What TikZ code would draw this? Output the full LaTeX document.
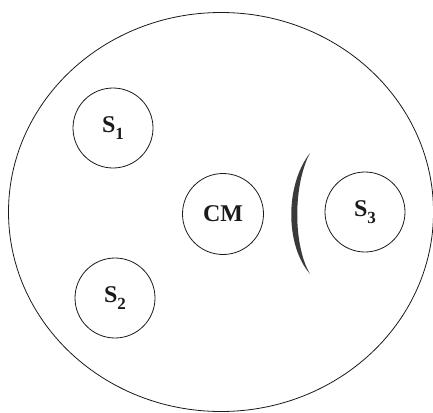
\documentclass[tikz,border=0pt]{standalone}
\usepackage{fontspec}
\setmainfont{Liberation Serif}
\usepackage{tikz}
\usetikzlibrary{positioning,shapes.geometric}
\definecolor{ink}{HTML}{1A1A1A}
\definecolor{shield}{HTML}{3A3A3A}
\newcommand{\satlabel}[1]{S\raisebox{-0.28em}{\fontsize{17}{20}\selectfont #1}}
\tikzset{
  body/.style={ellipse,draw=ink,line width=0.8pt,minimum width=425pt,minimum height=399pt,inner sep=0pt},
  sat/.style={circle,draw=ink,line width=0.8pt,minimum size=#1,inner sep=0pt,
    font=\fontsize{24}{28}\selectfont\bfseries,text=ink},
  sat/.default=80pt,
}
\begin{document}
\begin{tikzpicture}[x=1pt,y=-1pt]
  \useasboundingbox (0,0) rectangle (433,412);
  \node[body] (cell) at (221,212) {};
  \node[sat] (s1) at (113,128) {\satlabel{1}};
  \node[sat] (s2) at (115,298) {\satlabel{2}};
  \node[sat=81pt] (cm) at (223,214) {CM};
  \node[sat] (s3) at (365,212) {\satlabel{3}};
  % shield between CM and S3
  \fill[shield] (310,153) .. controls (285,185) and (285,245) .. (310,274)
    .. controls (293,245) and (293,185) .. cycle;
\end{tikzpicture}
\end{document}
